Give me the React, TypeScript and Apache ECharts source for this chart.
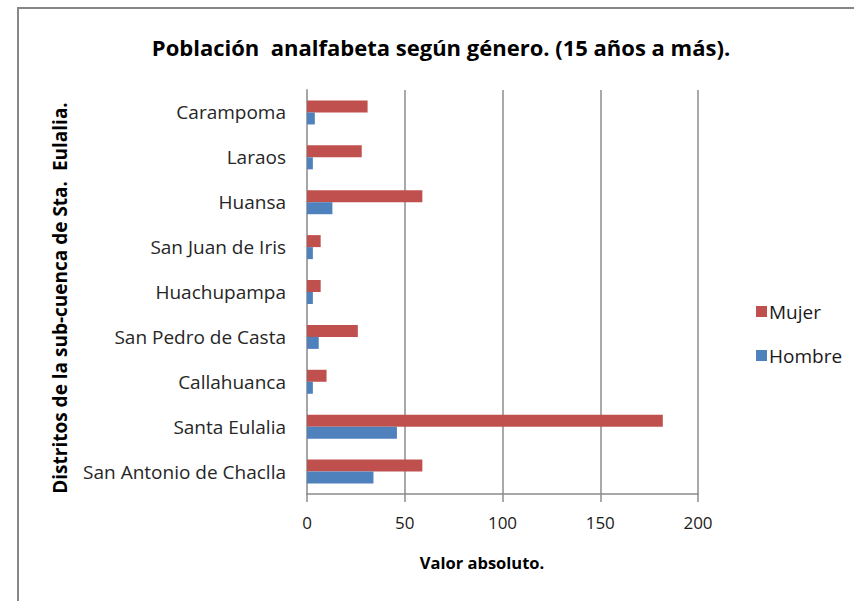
import React, { useEffect, useRef } from "react";
import * as echarts from "echarts";

const categories = [
  "San Antonio de Chaclla",
  "Santa Eulalia",
  "Callahuanca",
  "San Pedro de Casta",
  "Huachupampa",
  "San Juan de Iris",
  "Huansa",
  "Laraos",
  "Carampoma",
];
const mujer = [59, 182, 10, 26, 7, 7, 59, 28, 31];
const hombre = [34, 46, 3, 6, 3, 3, 13, 3, 4];
const xTicks = { min: 0, max: 200, interval: 50 };

const titleText = "Población  analfabeta según género. (15 años a más).";
const xName = "Valor absoluto.";
const yName = "Distritos de la sub-cuenca de Sta.  Eulalia.";

const FONT = "'Open Sans', 'Noto Sans', sans-serif";

export default function App() {
  const ref = useRef<HTMLDivElement>(null);
  useEffect(() => {
    document.body.style.margin = "0";
    const chart = echarts.init(ref.current!, undefined, { renderer: "svg" });
    chart.setOption({
      animation: false,
      backgroundColor: "#ffffff",
      textStyle: { fontFamily: FONT },
      grid: { left: 307, right: 156, top: 90, bottom: 107, containLabel: false },
      xAxis: {
        type: "value",
        min: xTicks.min,
        max: xTicks.max,
        interval: xTicks.interval,
        axisLine: { show: true, lineStyle: { color: "#8c8c8c", width: 1.5 } },
        axisTick: { show: true, length: 8, lineStyle: { color: "#8c8c8c", width: 1.5 } },
        axisLabel: { color: "#1a1a1a", fontSize: 17, margin: 20, fontFamily: FONT },
        splitLine: { show: true, lineStyle: { color: "#8c8c8c", width: 1.5 } },
      },
      yAxis: {
        type: "category",
        data: categories,
        axisLine: { show: true, lineStyle: { color: "#a6a6a6", width: 2 } },
        axisTick: { show: false },
        axisLabel: { color: "#262626", fontSize: 19, margin: 21, fontFamily: FONT },
        splitLine: { show: false },
      },
      legend: {
        orient: "vertical",
        left: 751,
        top: 297,
        itemWidth: 11,
        itemHeight: 11,
        itemGap: 25,
        icon: "rect",
        data: ["Mujer", "Hombre"],
        textStyle: { fontSize: 19, color: "#1a1a1a", fontFamily: FONT, padding: [0, 0, 0, -3] },
      },
      series: [
        {
          name: "Mujer",
          type: "bar",
          data: mujer,
          barWidth: 12,
          barGap: "0%",
          itemStyle: { color: "#c0504d" },
        },
        {
          name: "Hombre",
          type: "bar",
          data: hombre,
          barWidth: 12,
          barGap: "0%",
          itemStyle: { color: "#4f81bd" },
        },
      ],
      graphic: [
        {
          type: "rect",
          shape: { x: 18, y: 8, width: 1000, height: 800 },
          style: { fill: "none", stroke: "#878787", lineWidth: 2 },
          silent: true,
        },
        {
          type: "text",
          x: 441,
          y: 47,
          style: {
            text: titleText,
            fontSize: 22,
            fontWeight: "bold",
            fontFamily: FONT,
            fill: "#000",
            textAlign: "center",
            textVerticalAlign: "middle",
          },
        },
        {
          type: "text",
          x: 482,
          y: 562,
          style: {
            text: xName,
            fontSize: 16.5,
            fontWeight: "bold",
            fontFamily: FONT,
            fill: "#000",
            textAlign: "center",
            textVerticalAlign: "middle",
          },
        },
        {
          type: "text",
          x: 60,
          y: 298,
          rotation: Math.PI / 2,
          style: {
            text: yName,
            fontSize: 19,
            fontWeight: "bold",
            fontFamily: FONT,
            fill: "#000",
            textAlign: "center",
            textVerticalAlign: "middle",
          },
        },
      ],
    });
    return () => chart.dispose();
  }, []);
  return <div ref={ref} style={{ width: 854, height: 601 }} />;
}
